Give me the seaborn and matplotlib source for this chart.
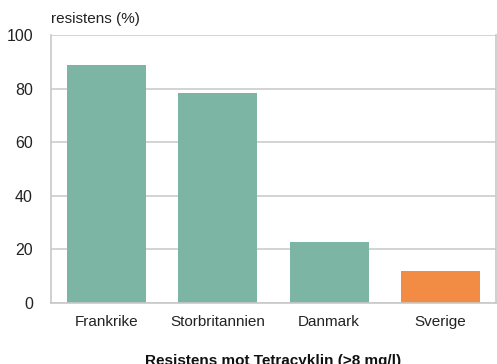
import matplotlib
matplotlib.use("Agg")
import matplotlib.pyplot as plt
from matplotlib.ticker import FixedLocator
import seaborn as sns
import pandas as pd

countries = ["Frankrike", "Storbritannien", "Danmark", "Sverige"]
resistance = [88.8, 78.3, 22.8, 11.9]
bar_colors = ["#7db5a5", "#7db5a5", "#7db5a5", "#f28c45"]

df = pd.DataFrame({"land": countries, "resistens": resistance})

sns.set_style("white")
plt.rcParams["font.family"] = ["Liberation Sans", "DejaVu Sans"]

fig = plt.figure(figsize=(4.97, 3.64), dpi=100)
ax = fig.add_axes([0.1026, 0.1676, 0.8954, 0.7362])

sns.barplot(data=df, x="land", y="resistens", hue="land", palette=bar_colors,
            legend=False, width=0.71, saturation=1, linewidth=0, ax=ax)

ax.set_ylim(0, 100)
ax.set_xlim(-0.5, 3.5)
ax.set_yticks([0, 20, 40, 60, 80, 100])
ax.yaxis.grid(True, color="#cccccc", linewidth=1.2)
ax.set_axisbelow(True)
for side in ["left", "right", "bottom", "top"]:
    ax.spines[side].set_color("#c8c8c8")
    ax.spines[side].set_linewidth(1.2)
    ax.spines[side].set_visible(True)
ax.spines["top"].set_visible(False)

ax.tick_params(axis="y", length=0, labelsize=11.5, pad=13, colors="#222222")
ax.tick_params(axis="x", which="major", length=0, labelsize=11, pad=9, colors="#222222")
ax.xaxis.set_minor_locator(FixedLocator([0.5, 1.5, 2.5]))
ax.tick_params(axis="x", which="minor", direction="in", length=5, color="#c8c8c8", width=1.2)

ax.set_ylabel("")
ax.set_xlabel("Resistens mot Tetracyklin (>8 mg/l)", fontsize=11,
              fontweight="bold", labelpad=18, color="#111111")
ax.text(0, 1.035, "resistens (%)", transform=ax.transAxes, fontsize=11,
        ha="left", va="bottom", color="#222222")

fig.savefig("out.png", dpi=100)
